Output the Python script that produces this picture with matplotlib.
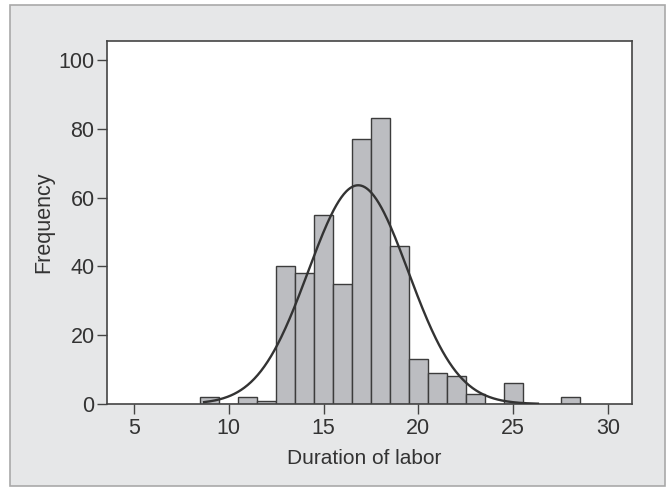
import numpy as np
import matplotlib.pyplot as plt
from matplotlib.patches import Rectangle

# histogram bins (centered on integers, width 1) and counts
bin_centers = [9, 10, 11, 12, 13, 14, 15, 16, 17, 18, 19, 20, 21, 22, 23, 24, 25, 26, 27, 28]
counts = [2, 0, 2, 1, 40, 38, 55, 35, 77, 83, 46, 13, 9, 8, 3, 0, 6, 0, 0, 2]
x_ticks = [5, 10, 15, 20, 25, 30]
y_ticks = [0, 20, 40, 60, 80, 100]
curve_range = [8.7, 26.3]

plt.rcParams['font.family'] = ['Liberation Sans', 'DejaVu Sans']

fig = plt.figure(figsize=(6.67, 4.87), dpi=100)
fig.patch.set_facecolor('white')

# gray panel with thin border
W, H = 667, 487
panel = Rectangle((10 / W, 1 - 486 / H), 655 / W, 481 / H, transform=fig.transFigure,
                  facecolor='#e6e7e8', edgecolor='#a9a9a9', linewidth=1.2, zorder=-10)
fig.add_artist(panel)

ax = fig.add_axes([107 / W, 1 - 404 / H, 525 / W, 363 / H])
ax.set_facecolor('white')

ax.bar(bin_centers, counts, width=1.0, color='#bcbdc1', edgecolor='#3c3c3c', linewidth=1.0, zorder=2)

# fitted normal curve
c = np.array(bin_centers, dtype=float)
n = np.array(counts, dtype=float)
N = n.sum()
mu = (c * n).sum() / N
sd = np.sqrt((n * (c - mu) ** 2).sum() / (N - 1))
xs = np.linspace(curve_range[0], curve_range[1], 400)
ys = N * 1.0 / (sd * np.sqrt(2 * np.pi)) * np.exp(-0.5 * ((xs - mu) / sd) ** 2)
ax.plot(xs, ys, color='#333333', linewidth=1.7, zorder=3)

ax.set_xlim(3.58, 31.26)
ax.set_ylim(0, 105.5)
ax.set_xticks(x_ticks)
ax.set_yticks(y_ticks)

for s in ax.spines.values():
    s.set_color('#444444')
    s.set_linewidth(1.2)
ax.tick_params(colors='#444444', labelcolor='#333333', labelsize=15.5, length=7, width=1.0, pad=2)
ax.tick_params(axis='x', pad=3)
ax.set_xlabel('Duration of labor', fontsize=15, color='#333333')
ax.xaxis.set_label_coords(0.49, -0.125)
ax.set_ylabel('Frequency', fontsize=15.5, color='#333333', labelpad=3)

fig.savefig('out.png', dpi=100)
